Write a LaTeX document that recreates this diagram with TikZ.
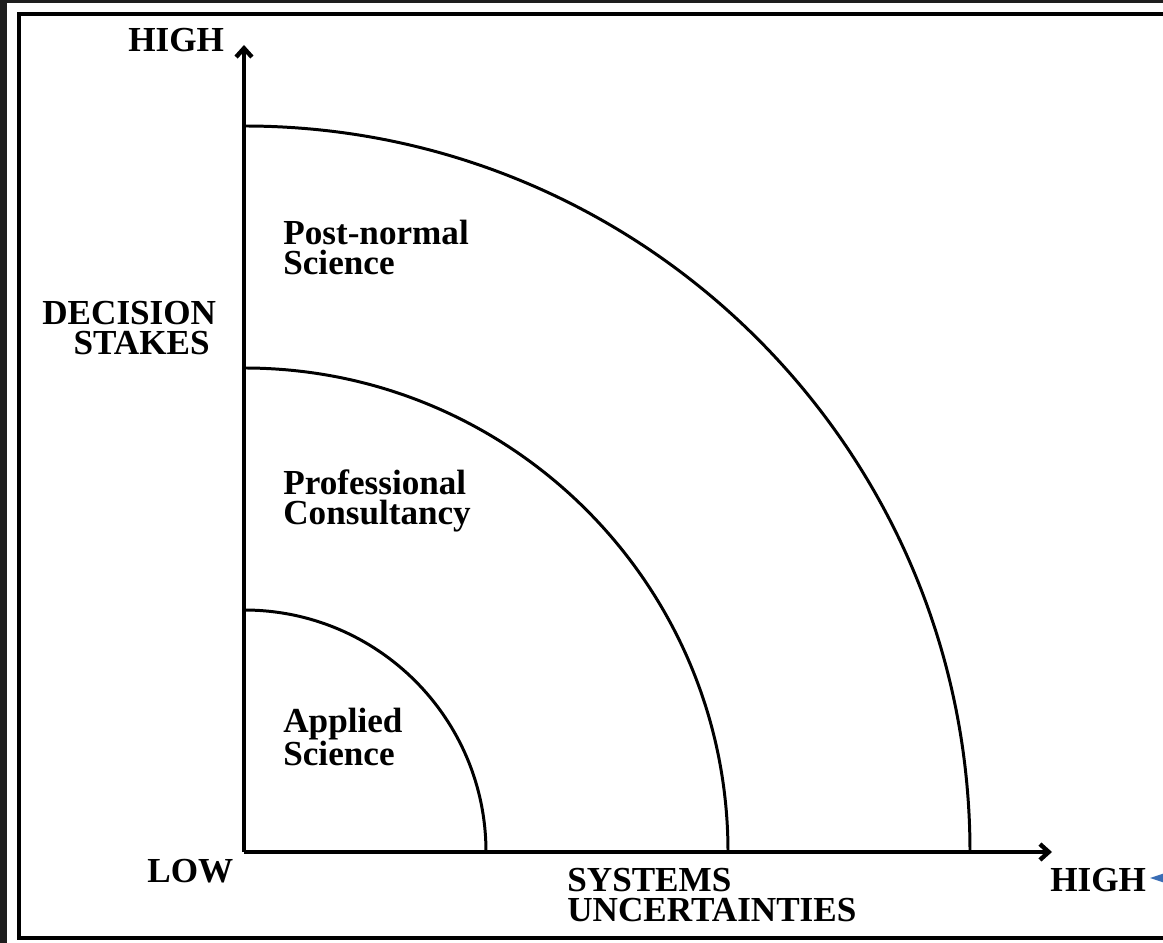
\documentclass[tikz,border=0pt]{standalone}
\usepackage{fontspec}
\setmainfont{Liberation Serif}
\usetikzlibrary{arrows.meta}
\definecolor{screendark}{HTML}{1E1E1E}
\definecolor{tipblue}{HTML}{3A6DB5}

\begin{document}
\begin{tikzpicture}[x=0.02cm, y=0.02cm,
		axis/.style={line width=2.5pt, -{Straight Barb[length=5pt, width=9pt]}},
		zone/.style={line width=1.7pt},
		lbl/.style={inner sep=0pt, anchor=base west, align=left, font=\bfseries\fontsize{20}{17.3}\selectfont}]
			%%%%% START %%%%%
			
			\useasboundingbox (0, 0) rectangle (1163, 943);
			\fill[screendark] (0, 0) rectangle (1163, 943);
			\fill[white] (7, 0) rectangle (1163, 940);
			\draw[line width=2pt] (1170, 929) -- (19, 929) -- (19, 5) -- (1170, 5);
			
			\coordinate (o) at (244, 91);
			\coordinate (ytip) at (244, 898);
			\coordinate (xtip) at (1052, 91);
			
			\draw[zone] (486, 91) arc[start angle=0, end angle=90, radius=242];
			\draw[zone] (728, 91) arc[start angle=0, end angle=90, radius=484];
			\draw[zone] (970, 91) arc[start angle=0, end angle=90, radius=726];
			
			\draw[axis] (o) -- (ytip);
			\draw[axis] (o) -- (xtip);
			
			% base anchor of a two-line label sits on its last line
			\node[lbl] (yhigh) at (128, 891) {HIGH};
			\node[lbl, align=center] (ylab) at (42, 588) {DECISION\\\hspace*{14pt}STAKES};
			\node[lbl] (low) at (147, 60) {LOW};
			\node[lbl] (xlab) at (567, 21) {SYSTEMS\\UNCERTAINTIES};
			\node[lbl] (xhigh) at (1050, 51) {HIGH};
			
			\node[lbl] (pns) at (283, 668) {Post-normal\\Science};
			\node[lbl] (pc) at (283, 418) {Professional\\Consultancy};
			\node[lbl] (as) at (283, 177) {Applied\\Science};
			
			\fill[tipblue] (1150, 65) -- (1165, 70) -- (1165, 60) -- cycle;
			
			%%%%% END %%%%%
\end{tikzpicture}
\end{document}
